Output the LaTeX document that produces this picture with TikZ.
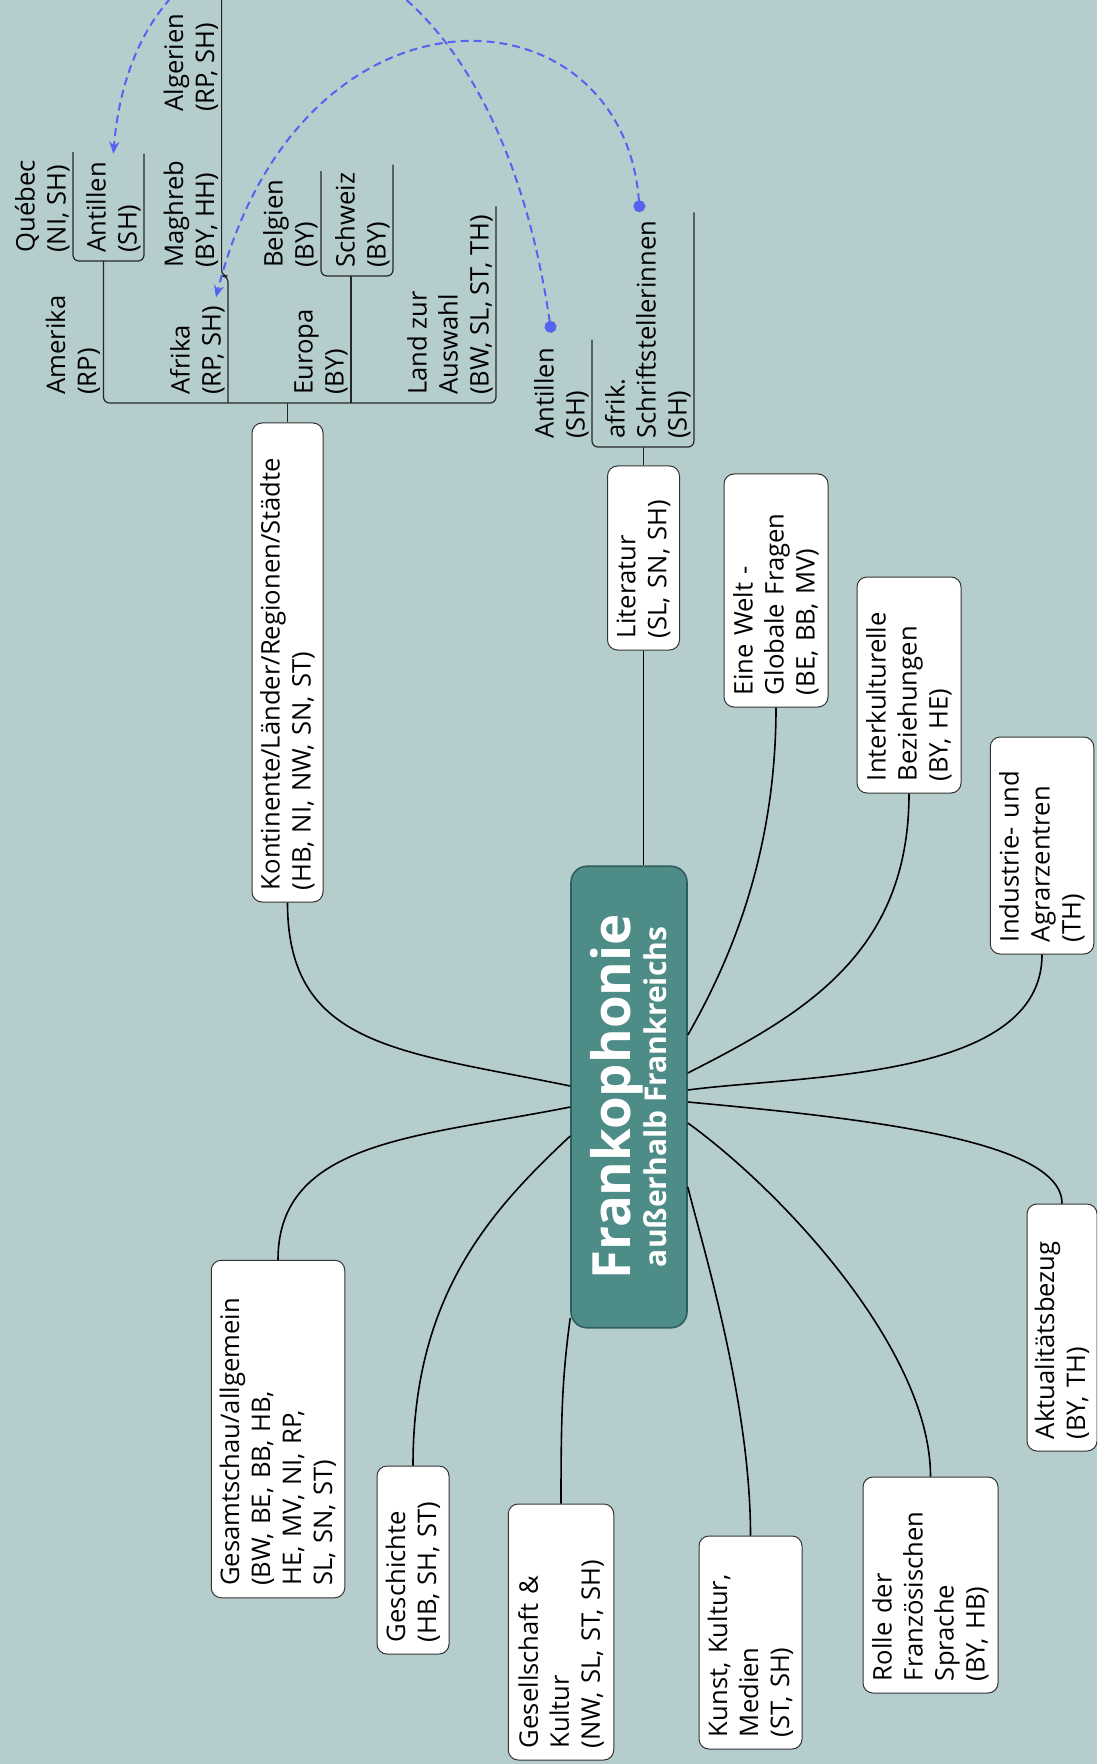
\documentclass[tikz,border=0pt]{standalone}
\usepackage{fontspec}
\setmainfont{Open Sans}
\usetikzlibrary{arrows.meta}

\definecolor{bgteal}{RGB}{182,205,205}
\definecolor{rootfill}{RGB}{78,140,136}
\definecolor{rootline}{RGB}{45,95,92}
\definecolor{relblue}{RGB}{85,100,240}

\begin{document}
\begin{tikzpicture}[x=0.5pt, y=-0.5pt, font=\fontsize{12.8}{15.5}\selectfont,
	block/.style = { rectangle, draw=black!80, line width=0.5pt, fill=white,
	rounded corners=5pt, rotate=90, align=left, inner xsep=6pt, inner ysep=2pt},
	topic/.style = { rotate=90, anchor=south west, align=left,
	inner xsep=4pt, inner ysep=1.5pt},
	branch/.style = { draw=black, line width=0.8pt},
	tree/.style = { draw=black!85, line width=0.6pt, rounded corners=3pt},
	rel/.style = { draw=relblue, line width=1pt, dash pattern=on 4pt off 2.5pt,
	arrows={Circle[length=6pt]-Stealth[length=6pt,width=5pt]}} ]

  \useasboundingbox (0,0) rectangle (1097,1764);
  \clip (0,0) rectangle (1097,1764);
  \fill [bgteal] (0,0) rectangle (1097,1764);

  \node [name=root, rotate=90, draw=rootline, line width=0.8pt, fill=rootfill,
	rounded corners=8pt, text=white, align=center, inner sep=0pt,
	minimum width=230.75pt, minimum height=58pt,
	font=\bfseries\fontsize{15}{18}\selectfont] at (629,1097)
	{ {\fontsize{26.4}{27}\selectfont Frankophonie}\\außerhalb Frankreichs };

  \node [name=kont, block, text width=227.5pt, minimum height=35.5pt] at (287.5,662.5)
	{ Kontinente/Länder/Regionen/Städte\\(HB, NI, NW, SN, ST) };
  \node [name=lit, block, text width=80pt, minimum height=36pt] at (643.5,558)
	{ Literatur\\(SL, SN, SH) };
  \node [name=welt, block, text width=104.5pt, minimum height=52pt] at (776,590.5)
	{ Eine Welt -\\Globale Fragen\\(BE, BB, MV) };
  \node [name=inter, block, text width=96pt, minimum height=52pt] at (909,685)
	{ Interkulturelle\\Beziehungen\\(BY, HE) };
  \node [name=indus, block, text width=96.5pt, minimum height=51.75pt] at (1042,845.5)
	{ Industrie- und\\Agrarzentren\\(TH) };
  \node [name=aktu, block, text width=111.5pt, minimum height=35pt] at (1062,1327.5)
	{ Aktualitätsbezug\\(BY, TH) };
  \node [name=rolle, block, text width=96pt, minimum height=67.5pt] at (930.5,1585)
	{ Rolle der\\Französischen\\Sprache\\(BY, HB) };
  \node [name=kunst, block, text width=94.5pt, minimum height=51.5pt] at (750.5,1642.5)
	{ Kunst, Kultur,\\Medien\\(ST, SH) };
  \node [name=gesell, block, text width=116pt, minimum height=52.75pt] at (561,1632)
	{ Gesellschaft \&\\Kultur\\(NW, SL, ST, SH) };
  \node [name=gesch, block, text width=82pt, minimum height=36pt] at (413,1560)
	{ Geschichte\\(HB, SH, ST) };
  \node [name=gesamt, block, text width=156.75pt, minimum height=66.75pt] at (278,1429)
	{ Gesamtschau/allgemein\\(BW, BE, BB, HB,\\HE, MV, NI, RP,\\SL, SN, ST) };

  % Unterthemen
  \node [name=amerika, topic] at (103.5,403) { Amerika\\(RP) };
  \node [name=quebec, topic] at (73,261) { Québec\\(NI, SH) };
  \node [name=aantil, topic] at (144,261) { Antillen\\(SH) };
  \node [name=afrika, topic] at (228,403) { Afrika\\(RP, SH) };
  \node [name=maghreb, topic] at (221.6,276) { Maghreb\\(BY, HH) };
  \node [name=algerien, topic] at (221.6,120) { Algerien\\(RP, SH) };
  \node [name=europa, topic] at (351,403) { Europa\\(BY) };
  \node [name=belgien, topic] at (321,276) { Belgien\\(BY) };
  \node [name=schweiz, topic] at (393,276) { Schweiz\\(BY) };
  \node [name=land, topic] at (496,403) { Land zur\\Auswahl\\(BW, SL, ST, TH) };
  \node [name=lantil, topic] at (592,447) { Antillen\\(SH) };
  \node [name=afrik, topic] at (694,447) { afrik.\\Schriftstellerinnen\\(SH) };

  \draw [branch] (kont.west) .. controls +(0,145) and +(-170,-35) .. (root.north |- 0,1086);
  \draw [branch] (gesamt.east) .. controls +(0,-120) and +(-150,30) .. (root.north |- 0,1107);
  \draw [branch] (gesch.east) .. controls +(0,-170) and +(-80,75) .. (root.north |- 0,1136);
  \draw [branch] (gesell.east) .. controls +(0,-90) and +(-8,60) .. (root.north |- 0,1318);
  \draw [branch] (lit.west) -- (lit.west |- root.east);
  \draw [branch] (welt.west) .. controls +(0,150) and +(40,-70) .. (root.south |- 0,1035);
  \draw [branch] (inter.west) .. controls +(0,160) and +(116,-59) .. (root.south |- 0,1073);
  \draw [branch] (indus.west) .. controls +(0,126) and +(113,-15) .. (root.south |- 0,1090);
  \draw [branch] (aktu.east) .. controls +(0,-64) and +(173,16) .. (root.south |- 0,1102);
  \draw [branch] (rolle.east) .. controls +(0,-127) and +(93,67) .. (root.south |- 0,1123);
  \draw [branch] (kunst.east) .. controls +(0,-136) and +(13,53) .. (root.south |- 0,1187);

  \draw [tree] (kont.east) -- (kont.east |- amerika.south west);
  \draw [tree] (quebec.south west -| amerika.south west) -- (amerika.south west)
	-- (land.south west) -- (land.south east);
  \draw [tree] (quebec.south east) -- (quebec.south west) -- (aantil.south west)
	-- (aantil.south east);
  \draw [tree] (afrika.south west) -- (maghreb.south west -| afrika.south west)
	-- (maghreb.south west) -- (maghreb.south west |- 0,-10);
  \draw [tree] (europa.south west) -- (belgien.south west -| europa.south west);
  \draw [tree] (belgien.south east) -- (belgien.south west) -- (schweiz.south west)
	-- (schweiz.south east);
  \draw [tree] (lit.east) -- (lit.east |- lantil.south west);
  \draw [tree] (lantil.south east) -- (lantil.south west) -- (afrik.south west)
	-- (afrik.south east);

  \draw [rel] ([shift={(-5pt,3.5pt)}]lantil.east) .. controls +(-70,-478) and +(24,-296) .. (aantil.east);
  \draw [rel] ([xshift=-4pt]afrik.east) .. controls +(-17,-230) and +(84,-332) .. ([xshift=-6pt]afrika.south east);
\end{tikzpicture}
\end{document}
